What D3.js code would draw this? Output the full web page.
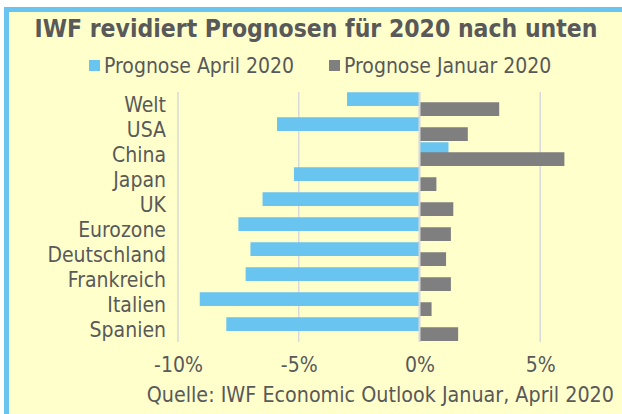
<!DOCTYPE html>
<html>
<head>
<meta charset="utf-8">
<script src="https://cdn.jsdelivr.net/npm/d3@7"></script>
<style>
  html, body { margin: 0; padding: 0; background: #fff; }
  svg { display: block; }
</style>
</head>
<body>
<div id="root"></div>
<script>
// Daten (IWF-Prognosen, BIP-Wachstum 2020 in %)
const categories = ['Welt', 'USA', 'China', 'Japan', 'UK', 'Eurozone', 'Deutschland', 'Frankreich', 'Italien', 'Spanien'];
const seriesNames = ['Prognose April 2020', 'Prognose Januar 2020'];
const april2020 = [-3.0, -5.9, 1.2, -5.2, -6.5, -7.5, -7.0, -7.2, -9.1, -8.0];
const januar2020 = [3.3, 2.0, 6.0, 0.7, 1.4, 1.3, 1.1, 1.3, 0.5, 1.6];
const xTicks = [-10, -5, 0, 5];
const titleText = 'IWF revidiert Prognosen für 2020 nach unten';
const sourceText = 'Quelle: IWF Economic Outlook Januar, April 2020';

const W = 622, H = 414;
const FONT = '"DejaVu Sans Condensed", "DejaVu Sans", sans-serif';
const TEXT = '#595959';
const colors = ['#69C4F0', '#7F7F7F'];
const fs = 21;

const svg = d3.select('#root').append('svg')
    .attr('width', W)
    .attr('height', H)
    .attr('xmlns', 'http://www.w3.org/2000/svg');

// Hintergrund + blauer Rand (oben / links)
svg.append('rect').attr('x', 4).attr('y', 7).attr('width', W - 4).attr('height', H - 7).attr('fill', '#69C4F0');
svg.append('rect').attr('x', 9).attr('y', 12).attr('width', W - 9).attr('height', H - 12).attr('fill', '#FFFFCC');

// Titel
svg.append('text')
    .attr('x', 316).attr('y', 37)
    .attr('text-anchor', 'middle')
    .attr('font-family', FONT).attr('font-weight', 'bold').attr('font-size', 24.5)
    .attr('fill', TEXT)
    .text(titleText);

// Legende
const legendX = [89, 329];
seriesNames.forEach((name, i) => {
    const lg = svg.append('g').attr('transform', `translate(${legendX[i]},0)`);
    lg.append('rect').attr('x', 0).attr('y', 60).attr('width', 11).attr('height', 11).attr('fill', colors[i]);
    lg.append('text')
        .attr('x', 15).attr('y', 72.5)
        .attr('font-family', FONT).attr('font-size', fs)
        .attr('fill', TEXT)
        .text(name);
});

// Skalen
const x = d3.scaleLinear().domain([-10, 10]).range([178, 661]);
const y = d3.scaleBand().domain(categories).range([92, 342]).paddingInner(0).paddingOuter(0);
const bw = y.bandwidth();
const barH = bw * 0.55;
const barOff = [0.01 * bw, 0.41 * bw];

// Gitterlinien
svg.append('g')
    .selectAll('line')
    .data(xTicks)
    .join('line')
    .attr('x1', d => x(d)).attr('x2', d => x(d))
    .attr('y1', y.range()[0]).attr('y2', y.range()[1])
    .attr('stroke', '#D9D9D9').attr('stroke-width', 1.5);

// Balken
[april2020, januar2020].forEach((vals, si) => {
    svg.append('g')
        .selectAll('rect')
        .data(vals)
        .join('rect')
        .attr('x', d => x(Math.min(0, d)))
        .attr('y', (d, i) => y(categories[i]) + barOff[si])
        .attr('width', d => Math.abs(x(d) - x(0)))
        .attr('height', barH)
        .attr('fill', colors[si]);
});

// Nulllinie
svg.append('line')
    .attr('x1', x(0)).attr('x2', x(0))
    .attr('y1', y.range()[0]).attr('y2', y.range()[1])
    .attr('stroke', '#D9D9D9').attr('stroke-width', 2);

// Kategorien
svg.append('g')
    .selectAll('text')
    .data(categories)
    .join('text')
    .attr('x', 166)
    .attr('y', d => y(d) + bw / 2)
    .attr('dy', '0.36em')
    .attr('text-anchor', 'end')
    .attr('font-family', FONT).attr('font-size', fs)
    .attr('fill', TEXT)
    .text(d => d);

// x-Achse
const gx = svg.append('g')
    .attr('transform', 'translate(0,369)')
    .call(d3.axisBottom(x).tickValues(xTicks).tickSize(0).tickFormat(d => `${d}%`));
gx.select('.domain').remove();
gx.selectAll('text')
    .attr('dy', 0)
    .attr('font-family', FONT).attr('font-size', fs)
    .attr('fill', TEXT);

// Quelle
svg.append('text')
    .attr('x', 614).attr('y', 402)
    .attr('text-anchor', 'end')
    .attr('font-family', FONT).attr('font-size', 21.3)
    .attr('fill', TEXT)
    .text(sourceText);
</script>
</body>
</html>
